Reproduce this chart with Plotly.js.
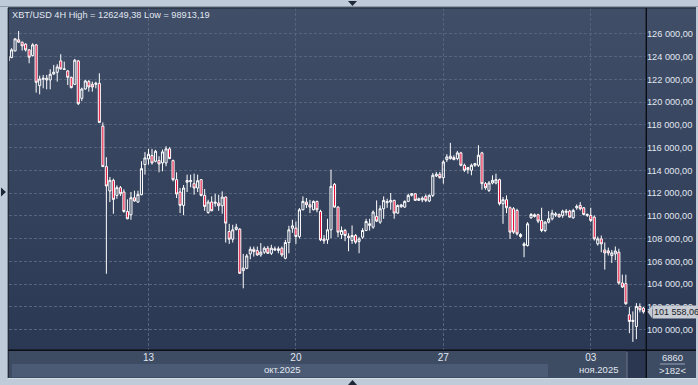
<!DOCTYPE html>
<html>
<head>
<meta charset="utf-8">
<script src="https://cdn.plot.ly/plotly-3.0.1.min.js"></script>
<style>
  html, body { margin:0; padding:0; }
  body { width:698px; height:385px; overflow:hidden; position:relative; background:#c0cbda; font-family:"Liberation Sans", Arial, sans-serif; }
  .bx { position:absolute; }
  #chart { position:absolute; left:0; top:0; width:698px; height:385px; }
</style>
</head>
<body>
<div class="bx" style="left:9px;top:8px;width:687px;height:342px;background:linear-gradient(#404e68,#2b3853);"></div>
<div class="bx" style="left:9px;top:350px;width:687px;height:28px;background:#3d4b63;"></div>
<div class="bx" style="left:12px;top:364px;width:536px;height:13px;background:#4b5b75;"></div>
<div class="bx" style="left:627px;top:351px;width:19px;height:27px;background:#2b3751;"></div>
<div id="chart"></div>
<script>
// ---- Data: XBT/USD 4H bars ----
const firstBar = "2025-10-06 08:00";   // first visible 4H bar
const barHours = 4;

const opens = [
  123620,123912,124500,125471,125265,125088,124588,124088,125029,121441,
  122000,121941,121941,122471,122618,123618,122912,122735,122176,121559,
  123618,120324,121147,121794,121559,121559,121647,117882,114324,112176,
  113118,111794,112471,112088,110382,110088,111588,111206,111853,114500,
  115000,115294,114794,114853,114647,114647,115882,114853,113176,112088,
  110912,112950,113000,112824,112441,113176,111794,110294,111206,111100,
  111118,110882,111647,108618,107941,108800,108824,105180,105382,106647,
  107059,106941,106559,106800,107150,106700,107100,106950,107150,106265,
  107647,108900,108912,108176,110530,111200,110970,110530,111265,110382,
  107950,107882,108765,112765,110765,108353,108706,108200,107824,108265,
  107735,108118,108706,109150,109000,109941,109441,110618,111150,111206,
  111353,110235,110800,110765,111265,111800,111941,111353,111400,111706,
  111300,111794,113500,113650,113353,114940,115030,115117,115030,115530,
  114441,114235,114000,114441,114441,115530,112824,112235,112882,112882,
  113176,111059,111412,110706,110618,110470,108176,107380,107382,109824,
  109940,110088,109588,108706,109441,109735,110060,110118,110030,110300,
  110412,109824,110706,110912,110706,110030,110030,109882,107530,107970,
  107000,106912,106500,106650,106794,104088,104030,101294,100706,100265,
  102030,101882
];
const highs = [
  124050,124735,125600,126249.38,125300,125176,124650,125176,125100,122324,
  122382,122382,122882,123265,123324,124206,123559,122824,122235,123794,
  123706,121265,121941,121941,121794,121794,122529,118206,115147,113412,
  113265,112676,112618,112324,111441,112088,112206,112206,114794,115600,
  115882,115882,115800,115235,115824,116118,116029,114941,113824,112441,
  112700,113618,113618,113706,113618,113230,112353,111412,111706,111941,
  111853,112147,111700,109294,109206,109294,108912,106647,106647,107294,
  107294,107294,107600,107300,107350,107450,107300,107300,107294,107882,
  109118,109650,109500,110680,111706,111560,111400,111353,111320,110530,
  108300,109735,114059,112882,110824,109059,108853,108470,109147,108400,
  108118,108912,109735,109735,110470,111353,110912,111706,111500,112000,
  111412,111000,111050,111353,111941,112000,112000,111600,111700,111882,
  111882,113765,113850,113850,114882,115412,116412,115320,115706,115620,
  114588,114300,114588,114650,116206,115620,112970,113059,113559,113706,
  113265,111647,111794,110824,110765,110618,108470,107680,109441,110235,
  110200,110176,110706,109530,110412,110530,110324,110200,110530,110590,
  110530,110618,111000,111206,110765,110200,110706,110030,108176,108265,
  107650,107200,107000,107300,107100,104824,104824,101970,101590,102324,
  102300,102000
];
const lows = [
  123550,123853,124450,125200,124529,124441,123412,124000,120824,120676,
  121206,121118,121118,122382,121794,122853,122824,121500,121206,121500,
  119735,120088,121100,120912,120912,121206,118150,114300,104900,111206,
  110176,111500,111735,110265,109700,109647,111250,111150,111800,113618,
  114500,114500,114700,113824,113912,114353,114980,113029,111559,110235,
  110050,112088,112500,111853,112088,111706,110441,110176,110400,110800,
  110441,110176,107647,107529,107647,108706,104882,103620,105300,106176,
  106412,106471,106400,106650,106650,106550,106900,106700,106400,106176,
  106700,108500,107530,108000,110480,110680,110235,110470,110300,107765,
  107530,107530,108030,110706,108118,107970,107765,106882,107530,107530,
  106706,107970,108647,108700,108850,109441,109294,109735,110700,110530,
  109735,110176,110700,110706,111206,111700,111300,111300,111200,111200,
  111200,111650,113400,113265,112824,114735,114941,114880,114882,114350,
  113853,113706,113560,114300,114300,112294,112294,112088,112765,112765,
  110912,109294,110235,107970,108412,108265,108060,106353,107294,109735,
  109850,109353,108559,108559,109330,109600,109900,109850,109824,110030,
  109824,109735,110530,110470,110030,109900,109441,107824,107382,106794,
  105265,106500,105850,106100,103941,103647,102176,99676,98913.19,99150,
  101500,101400
];
const closes = [
  124000,124588,125559,125265,124941,124588,123941,125029,121735,122029,
  122088,122088,122441,122618,123088,122912,122882,122176,121265,123677,
  119853,121147,121853,121324,121324,121647,118206,114324,112618,113118,
  111441,112471,111941,110382,109735,111588,111294,111882,114147,115088,
  115412,114647,115677,114559,115618,115882,115029,113176,111912,110912,
  112441,113100,113100,112441,113088,111794,110824,111206,110441,111200,
  110882,111647,109353,107941,108765,109000,104941,105400,106471,107059,
  106853,106559,106800,107150,106700,107150,107000,107100,106559,107647,
  108765,109118,108176,110530,111265,110970,110765,111265,110530,107882,
  107800,108765,112588,110765,108559,108706,108265,108100,108265,107676,
  107970,108706,109500,109300,110324,109530,110618,111353,111250,111353,
  110235,110912,110950,111265,111794,111941,111353,111500,111550,111353,
  111800,113559,113650,113350,114735,115176,115235,114940,115530,114441,
  114000,114060,114441,114588,115324,112824,112470,112882,113118,113176,
  111059,111412,110706,108559,108559,108412,108353,107530,109294,110118,
  110090,109530,108706,109441,109735,110235,110150,109900,110412,110400,
  109882,110470,110824,110618,110118,110118,109588,107970,107970,107530,
  106735,106735,106735,106900,104088,103735,102265,100706,100800,102030,
  101735,101558.06
];

const priceTicks = [100000,102000,104000,106000,108000,110000,112000,114000,116000,118000,120000,122000,124000,126000];
const dayTicks  = ["2025-10-13 00:00","2025-10-20 00:00","2025-10-27 00:00","2025-11-03 00:00"];
const dayLabels = ["13","20","27","03"];
const monthLabels = ["окт.2025","ноя.2025"];
const symbolText = "XBT/USD 4H";
const counterValue = "6860";

// ---- helpers ----
const HOUR = 3600e3;
const t0 = Date.parse(firstBar.replace(" ","T") + ":00Z");
function iso(ms){ return new Date(ms).toISOString().slice(0,19).replace("T"," "); }
const dates = opens.map((_, i) => iso(t0 + i*barHours*HOUR));
function fmt(v){
  const s = v.toFixed(2).split(".");
  return s[0].replace(/\B(?=(\d{3})+(?!\d))/g, " ") + "," + s[1];
}
function fmtPlain(v){ return v.toFixed(2).replace(".", ","); }

const hi = Math.max.apply(null, highs), lo = Math.min.apply(null, lows);
const last = closes[closes.length-1];

// pixel -> paper conversion (plot area x 9..646, y 8..350)
const PL=9, PR=646, PT=8, PB=350;
const px = x => (x-PL)/(PR-PL);
const py = y => (PB-y)/(PB-PT);

const FONT = "Liberation Sans, Arial, sans-serif";
const TXT = "#e1e7f0";

const trace = {
  type: "candlestick",
  x: dates, open: opens, high: highs, low: lows, close: closes,
  increasing: { line: { color: "#ffffff", width: 1 }, fillcolor: "rgba(0,0,0,0)" },
  decreasing: { line: { color: "#ffffff", width: 1 }, fillcolor: "#e5103a" },
  whiskerwidth: 0,
  hoverinfo: "none",
  showlegend: false
};

const xr0 = iso(t0 + (0.26)*barHours*HOUR);
const xr1 = iso(t0 + (181.74)*barHours*HOUR);

const shapes = [
  // frame lines
  { type:"line", xref:"paper", yref:"paper", x0:px(0), x1:px(698), y0:py(6.5), y1:py(6.5), line:{color:"#8f9bac", width:1}, layer:"above" },
  { type:"line", xref:"paper", yref:"paper", x0:px(8), x1:px(696), y0:py(7.8), y1:py(7.8), line:{color:"#1c2331", width:1.3}, layer:"above" },
  { type:"line", xref:"paper", yref:"paper", x0:px(8.3), x1:px(8.3), y0:py(8), y1:py(378), line:{color:"#1c2331", width:1.3}, layer:"above" },
  { type:"line", xref:"paper", yref:"paper", x0:px(8), x1:px(696), y0:py(350.3), y1:py(350.3), line:{color:"#0b0e14", width:1.4}, layer:"above" },
  { type:"line", xref:"paper", yref:"paper", x0:px(646.3), x1:px(646.3), y0:py(8), y1:py(378), line:{color:"#0b0e14", width:1.4}, layer:"above" },
  { type:"line", xref:"paper", yref:"paper", x0:px(627), x1:px(627), y0:py(352), y1:py(378), line:{color:"#6c788c", width:1}, layer:"above" },
  { type:"line", xref:"paper", yref:"paper", x0:px(660), x1:px(685), y0:py(364), y1:py(364), line:{color:"#9aa6b8", width:1}, layer:"above" },
  { type:"line", xref:"paper", yref:"paper", x0:px(8), x1:px(696), y0:py(378.5), y1:py(378.5), line:{color:"#d6dee8", width:1}, layer:"above" },
  // navigation triangles
  { type:"path", xref:"paper", yref:"paper", path:`M ${px(348)},${py(1)} L ${px(357)},${py(1)} L ${px(352.5)},${py(6)} Z`, fillcolor:"#1e2736", line:{width:0}, layer:"above" },
  { type:"path", xref:"paper", yref:"paper", path:`M ${px(348)},${py(385)} L ${px(357)},${py(385)} L ${px(352.5)},${py(380)} Z`, fillcolor:"#1e2736", line:{width:0}, layer:"above" },
  { type:"path", xref:"paper", yref:"paper", path:`M ${px(1)},${py(187.5)} L ${px(1)},${py(196.5)} L ${px(6)},${py(192)} Z`, fillcolor:"#1e2736", line:{width:0}, layer:"above" },
  // price tag arrow
  { type:"path", xref:"paper", yref:"paper", path:`M ${px(647.5)},${py(311.8)} L ${px(652)},${py(305.6)} L ${px(652)},${py(318)} Z`, fillcolor:"#c8cdd5", line:{width:0}, layer:"above" }
];

const annotations = [
  { xref:"paper", yref:"paper", x:px(10), y:py(15.5), xanchor:"left", yanchor:"middle", showarrow:false,
    text: `${symbolText} High = ${fmtPlain(hi)} Low = ${fmtPlain(lo)}`, font:{family:FONT, size:9.2, color:TXT} },
  { xref:"paper", yref:"paper", x:px(282), y:py(370), xanchor:"center", yanchor:"middle", showarrow:false,
    text: monthLabels[0], font:{family:FONT, size:9.5, color:TXT} },
  { xref:"paper", yref:"paper", x:px(598), y:py(370), xanchor:"center", yanchor:"middle", showarrow:false,
    text: monthLabels[1], font:{family:FONT, size:9.5, color:TXT} },
  { xref:"paper", yref:"paper", x:px(672), y:py(357.5), xanchor:"center", yanchor:"middle", showarrow:false,
    text: counterValue, font:{family:FONT, size:9.5, color:TXT} },
  { xref:"paper", yref:"paper", x:px(672), y:py(370.5), xanchor:"center", yanchor:"middle", showarrow:false,
    text: "&gt;" + opens.length + "&lt;", font:{family:FONT, size:9.5, color:TXT} },
  { xref:"paper", yref:"y", x:px(651.5), y:last, xanchor:"left", yanchor:"middle", showarrow:false,
    text: fmt(last), font:{family:FONT, size:9, color:"#1a1e26"}, bgcolor:"#c8cdd5", borderpad:1 }
];

const grid = { gridcolor:"#56647e", griddash:"3px,2px", gridwidth:1 };

const layout = {
  width: 698, height: 385,
  margin: { l: PL, r: 698-PR, t: PT, b: 385-PB, pad: 0 },
  paper_bgcolor: "rgba(0,0,0,0)",
  plot_bgcolor: "rgba(0,0,0,0)",
  separators: ", ",
  showlegend: false,
  boxgap: 0.15,
  xaxis: Object.assign({
    type: "date",
    range: [xr0, xr1],
    rangeslider: { visible: false },
    tickmode: "array", tickvals: dayTicks, ticktext: dayLabels,
    showgrid: true, zeroline: false, showline: false, ticks: "",
    tickfont: { family: FONT, size: 10, color: TXT },
    fixedrange: true
  }, grid),
  yaxis: Object.assign({
    side: "right",
    range: [98198, 128270],
    tickmode: "array", tickvals: priceTicks,
    tickformat: ",.2f",
    showgrid: true, zeroline: false, showline: false, ticks: "",
    ticklabelstandoff: 0,
    tickfont: { family: FONT, size: 9.2, color: TXT },
    fixedrange: true
  }, grid),
  shapes: shapes,
  annotations: annotations
};

Plotly.newPlot("chart", [trace], layout, { staticPlot: true, displayModeBar: false });
</script>
</body>
</html>
